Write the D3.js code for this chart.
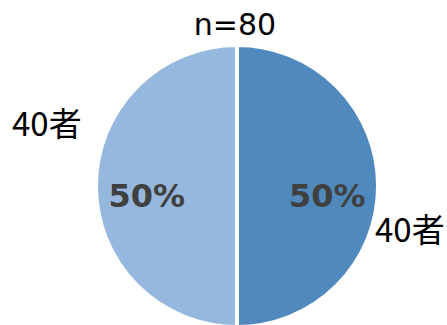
<!DOCTYPE html>
<html>
<head>
<meta charset="utf-8">
<script src="https://cdn.jsdelivr.net/npm/d3@7"></script>
<style>
  body { margin: 0; background: #fff; }
</style>
</head>
<body>
<div id="chart"></div>
<script>
const categories = ['40者', '40者'];
const values = [40, 40];
const colors = ['#4f89bd', '#97b8de'];
const title = 'n=80';

const width = 447, height = 325;
const cx = 237, cy = 186, radius = 141;

const svg = d3.select('#chart').append('svg')
    .attr('width', width)
    .attr('height', height);

const total = d3.sum(values);
const pie = d3.pie().sort(null).value(d => d);
const arcs = pie(values);

const arc = d3.arc().innerRadius(0).outerRadius(radius);
const labelArc = d3.arc().innerRadius(radius * 0.64).outerRadius(radius * 0.64);

const g = svg.append('g').attr('transform', `translate(${cx},${cy})`);

g.selectAll('path')
    .data(arcs)
    .enter().append('path')
    .attr('d', arc)
    .attr('fill', (d, i) => colors[i])
    .attr('stroke', '#fff')
    .attr('stroke-width', 4);

g.selectAll('.pct')
    .data(arcs)
    .enter().append('text')
    .attr('class', 'pct')
    .attr('x', d => labelArc.centroid(d)[0])
    .attr('y', 21)
    .attr('text-anchor', 'middle')
    .style('font-family', 'DejaVu Sans, sans-serif')
    .style('font-weight', 'bold')
    .style('font-size', '32px')
    .style('fill', '#404040')
    .text(d => Math.round(d.value / total * 100) + '%');

// category labels outside the pie
const catPos = [{ x: 375, y: 242 }, { x: 12, y: 136 }];
svg.selectAll('.cat')
    .data(categories)
    .enter().append('text')
    .attr('class', 'cat')
    .attr('x', (d, i) => catPos[i].x)
    .attr('y', (d, i) => catPos[i].y)
    .style('font-family', 'Noto Sans CJK JP, sans-serif')
    .style('font-size', '33px')
    .style('fill', '#000')
    .text(d => d);

svg.append('text')
    .attr('x', 235)
    .attr('y', 35)
    .attr('text-anchor', 'middle')
    .style('font-family', 'DejaVu Sans, sans-serif')
    .style('font-size', '30px')
    .style('fill', '#000')
    .text(title);
</script>
</body>
</html>
